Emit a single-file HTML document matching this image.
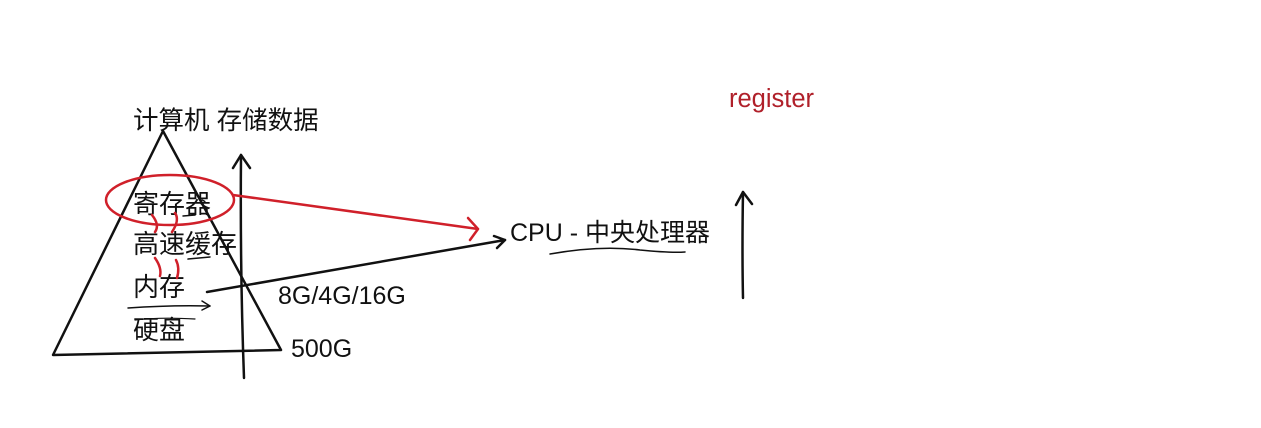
<!DOCTYPE html>
<html><head><meta charset="utf-8"><style>
html,body{margin:0;padding:0;background:#fff;}
svg{display:block}
text{font-family:"Liberation Sans","Noto Sans CJK SC",sans-serif;}
</style></head><body>
<svg width="1261" height="428" viewBox="0 0 1261 428" xmlns="http://www.w3.org/2000/svg">
<g fill="#111" font-size="25">
<text x="133" y="129" font-size="25.5">计算机 存储数据</text>
<text x="133" y="213" font-size="26">寄存器</text>
<text x="133" y="253" font-size="26">高速缓存</text>
<text x="133" y="296" font-size="26">内存</text>
<text x="133" y="339" font-size="26">硬盘</text>
<text x="278" y="304">8G/4G/16G</text>
<text x="291" y="357">500G</text>
<text x="510" y="241">CPU - 中央处理器</text>
</g>
<text x="729" y="107" font-size="25.5" fill="#b0202a">register</text>
<g fill="none" stroke="#111" stroke-width="2.5" stroke-linecap="round" stroke-linejoin="round">
<path d="M163 131 L281 350 L53 355 Z"/>
<path d="M244 378 Q240 270 241 155"/>
<path d="M233 168 L241 155 L250 168"/>
<path d="M207 292 L505 240"/>
<path d="M494 236 L505 240 L497 248"/>
<path d="M550 254 Q600 245 640 250 Q670 253 685 252" stroke-width="1.5"/>
<path d="M743 298 Q742 250 743 192"/>
<path d="M736 205 L743 192 L752 204"/>
<path d="M128 308 Q170 305 210 306" stroke-width="1.5"/>
<path d="M202 301 L210 306 L202 310" stroke-width="1.5"/>
<path d="M135 320 Q160 317 195 319" stroke-width="1.2"/>
<path d="M183 216 L195 215" stroke-width="1.5"/>
<path d="M188 259 L210 257" stroke-width="1.5"/>
</g>
<g fill="none" stroke="#d0202a" stroke-width="2.5" stroke-linecap="round" stroke-linejoin="round">
<ellipse cx="170" cy="200" rx="64" ry="25"/>
<path d="M233 195 L478 229"/>
<path d="M468 218 L478 229 L470 240"/>
<path d="M152 215 Q160 225 155 232 M172 232 Q180 220 175 213"/>
<path d="M155 258 Q162 268 160 276 M177 278 Q180 268 176 260"/>
</g>
</svg>
</body></html>
